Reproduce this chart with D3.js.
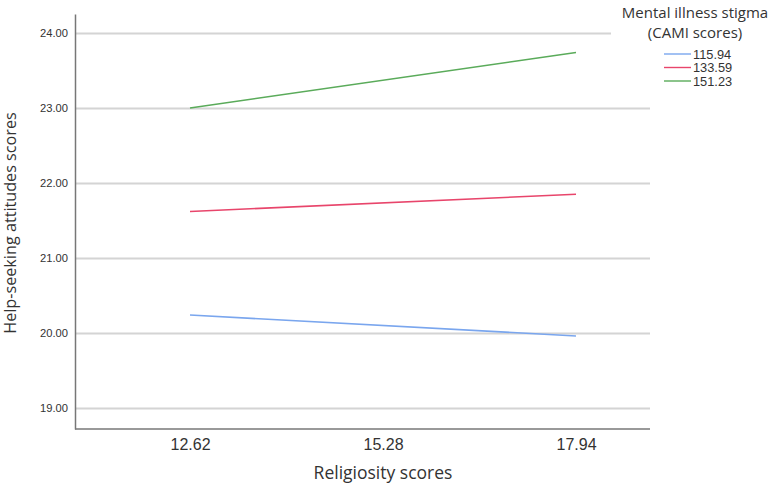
<!DOCTYPE html>
<html><head><meta charset="utf-8">
<script src="https://cdn.jsdelivr.net/npm/d3@7"></script>
<style>body{margin:0;background:#fff}
.num{font-family:"Liberation Sans", Arial, sans-serif;}
.lbl{font-family:"Open Sans", sans-serif;}
</style>
</head><body>
<svg id="c" width="777" height="486"></svg>
<script>
const categories = ["12.62", "15.28", "17.94"];
const seriesNames = ["115.94", "133.59", "151.23"];
const series115 = [20.24, 19.96];
const series133 = [21.62, 21.85];
const series151 = [23.00, 23.74];
const lineX = ["12.62", "17.94"];
const yTicks = [19, 20, 21, 22, 23, 24];
const colors = ["#7aa6ee", "#e8456b", "#5aab5a"];

(function () {
const svg = d3.select("#c");
const pL = 75, pR = 650, pT = 14, pB = 429;
const x = d3.scalePoint().domain(categories).range([190, 576]);
const y = d3.scaleLinear().domain([18.72, 24.253]).range([pB, pT]);

// gridlines
svg.append("g").selectAll("line").data(yTicks).join("line")
  .attr("x1", pL).attr("x2", d => d === 24 ? 611 : pR)
  .attr("y1", d => Math.round(y(d)) + 0.5).attr("y2", d => Math.round(y(d)) + 0.5)
  .attr("stroke", "#d4d4d4").attr("stroke-width", 2);

// y axis
const ya = d3.axisLeft(y).tickValues(yTicks).tickFormat(d3.format(".2f")).tickSize(0).tickPadding(7);
const gy = svg.append("g").attr("transform", `translate(${pL},0)`).call(ya);
gy.attr("font-family", null);
gy.select(".domain").attr("stroke", "#777").attr("stroke-width", 1.5);
gy.selectAll("text").attr("class", "num").attr("font-size", 11.2).attr("fill", "#333");

// x axis
const xa = d3.axisBottom(x).tickSize(0).tickPadding(10);
const gx = svg.append("g").attr("transform", `translate(0,${pB})`).call(xa);
gx.attr("font-family", null);
gx.select(".domain").attr("d", `M${pL},0H${pR}`).attr("stroke", "#777").attr("stroke-width", 1.5);
gx.selectAll("text").attr("class", "num").attr("font-size", 16).attr("fill", "#333");

// lines
const data = [series115, series133, series151];
const line = d3.line().x((d, i) => x(lineX[i])).y(d => y(d));
svg.append("g").selectAll("path").data(data).join("path")
  .attr("d", line).attr("fill", "none")
  .attr("stroke", (d, i) => colors[i]).attr("stroke-width", 1.6);

// axis titles
svg.append("text").attr("class", "lbl").attr("x", 383).attr("y", 479).attr("text-anchor", "middle")
  .attr("font-size", 17.5).attr("fill", "#333")
  .text("Religiosity scores");
svg.append("text").attr("class", "lbl").attr("transform", "translate(16,223) rotate(-90)").attr("text-anchor", "middle")
  .attr("font-size", 16.2).attr("fill", "#333")
  .text("Help-seeking attitudes scores");

// legend
const lg = svg.append("g");
lg.append("text").attr("class", "lbl").attr("x", 695).attr("y", 18).attr("text-anchor", "middle")
  .attr("font-size", 15).attr("fill", "#333")
  .text("Mental illness stigma");
lg.append("text").attr("class", "lbl").attr("x", 695).attr("y", 38).attr("text-anchor", "middle")
  .attr("font-size", 15).attr("fill", "#333")
  .text("(CAMI scores)");
const rows = lg.selectAll("g.r").data(seriesNames).join("g").attr("class", "r")
  .attr("transform", (d, i) => `translate(0,${54 + i * 13.5})`);
rows.append("line").attr("x1", 664).attr("x2", 691).attr("y1", 0).attr("y2", 0)
  .attr("stroke", (d, i) => colors[i]).attr("stroke-width", 1.4);
rows.append("text").attr("class", "num").attr("x", 693).attr("y", 4.5)
  .attr("font-size", 12.8).attr("fill", "#333")
  .text(d => d);
})();
</script>
</body></html>
